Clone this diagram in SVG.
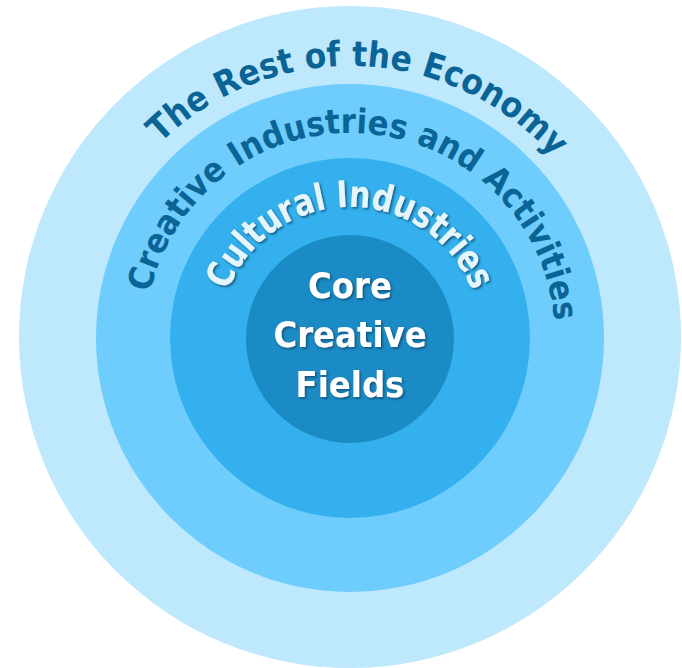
<svg xmlns="http://www.w3.org/2000/svg" width="682" height="668" viewBox="0 0 682 668">
  <style>
    .lbl { font-family: "DejaVu Sans Condensed", "DejaVu Sans", sans-serif; font-stretch: condensed; font-weight: bold; }
    .dark { fill: #0b6496; }
    .light { fill: #e4f5fc; filter: url(#shadow); }
    .core { fill: #ffffff; filter: url(#shadow); text-anchor: middle; font-size: 36px; }
  </style>
  <defs>
    <filter id="shadow" x="-20%" y="-20%" width="140%" height="140%">
      <feDropShadow dx="1.5" dy="1.5" stdDeviation="1" flood-color="#0a4a6c" flood-opacity="0.85"/>
    </filter>
    <path id="arcRest" d="M 350,610 A 272,272 0 0 1 350,66 A 272,272 0 0 1 350,610"/>
    <path id="arcCreative" d="M 350,543 A 205,205 0 0 1 350,133 A 205,205 0 0 1 350,543"/>
    <path id="arcCultural" d="M 350,469 A 131,131 0 0 1 350,207 A 131,131 0 0 1 350,469"/>
  </defs>
  <rect width="682" height="668" fill="#ffffff"/>
  <g id="rest-of-economy">
    <circle cx="350" cy="337" r="331" fill="#bee8fc"/>
  </g>
  <g id="creative-industries">
    <circle cx="350" cy="338" r="254" fill="#6fcdfd"/>
  </g>
  <g id="cultural-industries">
    <circle cx="350" cy="338" r="180" fill="#33b0ed"/>
  </g>
  <g id="core-creative-fields">
    <circle cx="350" cy="339" r="104" fill="#1b8bc5"/>
  </g>
  <g id="labels">
    <text class="lbl dark" font-size="35" text-anchor="middle"><textPath href="#arcRest" startOffset="864" textLength="440" lengthAdjust="spacingAndGlyphs">The Rest of the Economy</textPath></text>
    <text class="lbl dark" font-size="34" text-anchor="middle"><textPath href="#arcCreative" startOffset="658" textLength="581" lengthAdjust="spacingAndGlyphs">Creative Industries and Activities</textPath></text>
    <text class="lbl light" font-size="37" text-anchor="middle"><textPath href="#arcCultural" startOffset="411.5" textLength="315" lengthAdjust="spacingAndGlyphs">Cultural Industries</textPath></text>
    <text class="lbl core" x="350" y="298">Core</text>
    <text class="lbl core" x="350" y="347">Creative</text>
    <text class="lbl core" x="350" y="397">Fields</text>
  </g>
  <g id="connectors"/>
</svg>
